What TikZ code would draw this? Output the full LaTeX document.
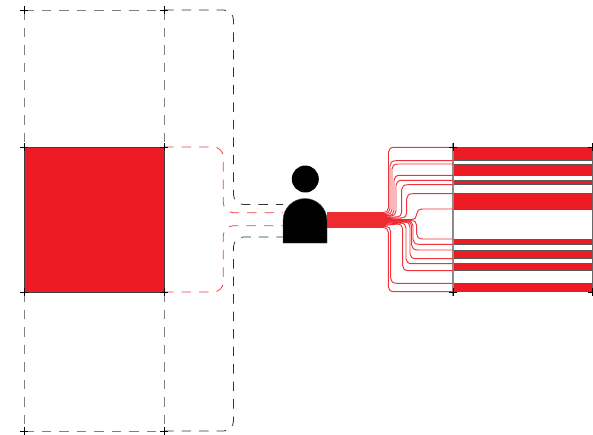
\documentclass[tikz,border=0pt]{standalone}
\definecolor{rd}{HTML}{ED1C24}
\definecolor{rl}{HTML}{EF2B32}
\tikzset{
  x=1pt,y=-1pt,
  greydash/.style={draw=black!50,line width=0.8pt,dash pattern=on 9.5pt off 8pt},
  blackdash/.style={draw=black!80,line width=0.8pt,dash pattern=on 9.5pt off 8pt,rounded corners=10pt},
  reddash/.style={draw=rd!85,line width=0.8pt,dash pattern=on 9.5pt off 8pt,rounded corners=10pt},
  crossmark/.style={draw=black,line width=0.5pt},
  barfill/.style={fill=rd,draw=black!65,line width=0.5pt},
  rline/.style={draw=rl,line width=1.05pt,line join=round},
  thinr/.style={draw=rd!90,line width=0.95pt}
}
\begin{document}
\begin{tikzpicture}
\useasboundingbox (0,0) rectangle (593,434);
\coordinate (tl) at (24,10); \coordinate (tm) at (164,10);
\coordinate (ul) at (24,147); \coordinate (um) at (164,147);
\coordinate (ll) at (24,292); \coordinate (lm) at (164,292);
\coordinate (bl) at (24,431); \coordinate (bm) at (164,431);
\coordinate (bu) at (283,204.5); \coordinate (bd) at (283,237);
\coordinate (ru) at (283,212.7); \coordinate (rd1) at (283,225.7);
% left grid
\draw[greydash] (tl) -- (tm);
\draw[greydash] (tl) -- (ul);
\draw[greydash] (tm) -- (um);
\draw[greydash] (ll) -- (bl);
\draw[greydash] (lm) -- (bm);
\draw[greydash] (bl) -- (bm);
\path[fill=rd,draw=black!75,line width=0.5pt] (ul) rectangle (lm);
% dashed connectors
\draw[blackdash] (tm) -- (233.5,10) -- (233.5,204.5) -- (bu);
\draw[blackdash] (bm) -- (233.5,431) -- (233.5,237) -- (bd);
\draw[reddash] (um) -- (223.3,147) -- (223.3,212.7) -- (ru);
\draw[reddash] (lm) -- (223.3,292) -- (223.3,225.7) -- (rd1);
% right bars
\foreach \a/\b in {147.3/160.7,164/175.3,180.3/184.7,193.7/209,239/244.3,250/258.7,263.7/270.7,283.3/291.7}
  \path[barfill] (453,\a) rectangle (592,\b);
\draw[black!45,line width=1.3pt] (453,143) -- (453,296);
\draw[black!60,line width=0.8pt] (592,143) -- (592,296);
% red lines
\foreach \yi/\yd/\vx/\ye in {
  212.5/212.5/388.5/147.3, 213.5/213.5/390/160.7, 214.5/214.5/392/164, 215.5/215.5/394/175.3,
  216.5/216/396/180.3, 217.5/217/401.7/184.7, 218.5/218/406.7/193.7, 219.5/219.5/416.7/209,
  220.5/220.5/416.7/239, 221.5/221/413/244.3, 222.5/221.5/411.7/250, 223.5/222/410/258.7,
  224.5/223/406/263.7, 225.5/224/402.7/270.7, 226.5/226.5/390.7/283.3, 227.5/227.5/388.3/291.7}{
  \pgfmathsetmacro\s{\ye<\yd?-1:1}
  \draw[rline] (327,\yi) -- (383,\yi) -- (\vx-5.5,\yd);
  \draw[thinr] (\vx-6,\yd) .. controls (\vx-2,\yd) and (\vx,\yd+\s*2) .. (\vx,\yd+\s*5)
     -- (\vx,\ye-\s*5) .. controls (\vx,\ye-\s*2) and (\vx+2,\ye) .. (\vx+6,\ye) -- (453,\ye);
}
% person
\node[circle,fill=black,inner sep=0pt,minimum size=27pt] (head) at (305.3,179) {};
\path[fill=black,draw=black!70,line width=0.4pt] (283,243) -- (283,220.5) arc[start angle=180,end angle=360,radius=22] -- (327,243) -- cycle;
% crosses
\foreach \p in {tl,tm,ul,um,ll,lm,bl,bm}
  \draw[crossmark] ([xshift=-4pt]\p) -- ([xshift=4pt]\p) ([yshift=-4pt]\p) -- ([yshift=4pt]\p);
\foreach \px/\py in {453/147,592/147,453/292,592/292}
  \draw[crossmark] (\px-4,\py) -- (\px+4,\py) (\px,\py-4) -- (\px,\py+4);
\end{tikzpicture}
\end{document}
